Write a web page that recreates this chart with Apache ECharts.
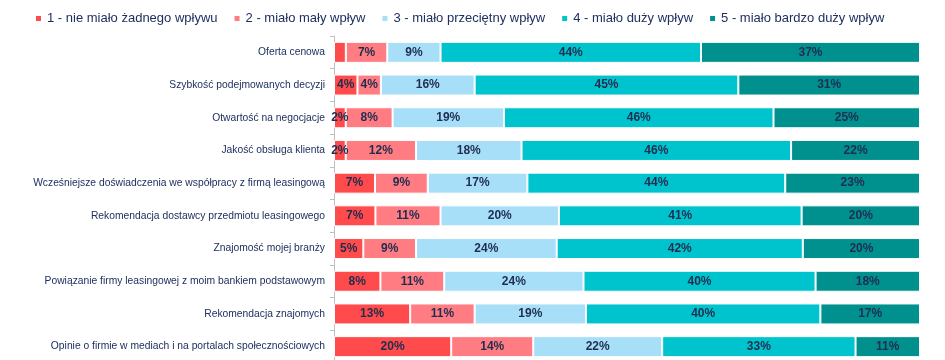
<!DOCTYPE html>
<html>
<head>
<meta charset="utf-8">
<script src="https://cdn.jsdelivr.net/npm/echarts@6/dist/echarts.min.js"></script>
<style>html,body{margin:0;padding:0;background:#fff}#c{width:945px;height:360px}</style>
</head>
<body>
<div id="c"></div>
<script>
const categories = [
  'Oferta cenowa',
  'Szybkość podejmowanych decyzji',
  'Otwartość na negocjacje',
  'Jakość obsługa klienta',
  'Wcześniejsze doświadczenia we współpracy z firmą leasingową',
  'Rekomendacja dostawcy przedmiotu leasingowego',
  'Znajomość mojej branży',
  'Powiązanie firmy leasingowej z moim bankiem podstawowym',
  'Rekomendacja znajomych',
  'Opinie o firmie w mediach i na portalach społecznościowych'
];
const seriesNames = [
  '1 - nie miało żadnego wpływu',
  '2 - miało mały wpływ',
  '3 - miało przeciętny wpływ',
  '4 - miało duży wpływ',
  '5 - miało bardzo duży wpływ'
];
const s1 = [2, 4, 2, 2, 7, 7, 5, 8, 13, 20];
const s2 = [7, 4, 8, 12, 9, 11, 9, 11, 11, 14];
const s3 = [9, 16, 19, 18, 17, 20, 24, 24, 19, 22];
const s4 = [44, 45, 46, 46, 44, 41, 42, 40, 40, 33];
const s5 = [37, 31, 25, 22, 23, 20, 20, 18, 17, 11];
const hiddenLabels = [[0, 0]]; // [seriesIndex, categoryIndex]

const colors = ['#FF4B4B', '#FF7C82', '#A7DFF8', '#00C4CD', '#00918F'];
const all = [s1, s2, s3, s4, s5];
const totals = categories.map((_, i) => all.reduce((a, s) => a + s[i], 0));

const series = all.map((arr, si) => ({
  name: seriesNames[si],
  type: 'bar',
  stack: 'total',
  barWidth: 21,
  itemStyle: { color: colors[si], borderColor: '#ffffff', borderWidth: 1 },
  label: {
    show: true,
    position: 'inside',
    color: '#1F2D50',
    fontFamily: 'Liberation Sans, Arial, sans-serif',
    fontWeight: 'bold',
    fontSize: 12,
    formatter: p => p.data.raw + '%'
  },
  data: arr.map((v, i) => {
    const d = { value: v / totals[i] * 100, raw: v };
    if (hiddenLabels.some(h => h[0] === si && h[1] === i)) d.label = { show: false };
    return d;
  })
}));

const chart = echarts.init(document.getElementById('c'), null, { renderer: 'canvas' });
chart.setOption({
  animation: false,
  color: colors,
  legend: {
    top: 7,
    left: 29,
    itemWidth: 7,
    itemHeight: 7,
    itemGap: 15,
    icon: 'rect',
    textStyle: { color: '#1F3060', fontSize: 13, fontFamily: 'Liberation Sans, Arial, sans-serif' },
    data: seriesNames
  },
  grid: { left: 334, right: 25, top: 36, height: 327, containLabel: false, outerBoundsMode: 'none' },
  xAxis: {
    type: 'value',
    min: 0,
    max: 100,
    show: false
  },
  yAxis: {
    type: 'category',
    inverse: true,
    data: categories,
    axisLine: { show: true, lineStyle: { color: '#BFBFBF', width: 1 } },
    axisTick: { show: true, length: 4, lineStyle: { color: '#BFBFBF' } },
    axisLabel: {
      color: '#1F3060',
      fontSize: 10.3,
      margin: 9,
      fontFamily: 'Liberation Sans, Arial, sans-serif'
    }
  },
  series: series
});
</script>
</body>
</html>
